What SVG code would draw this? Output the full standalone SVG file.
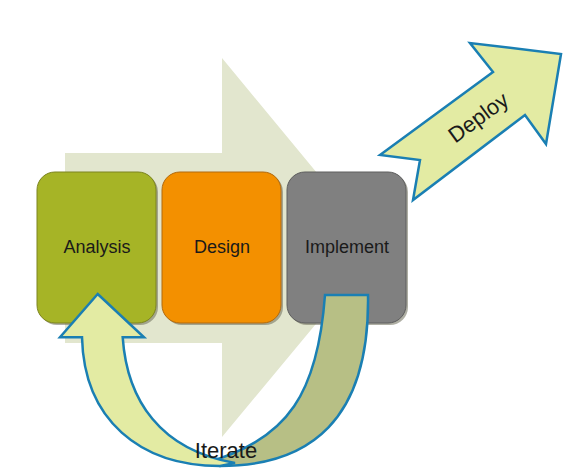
<svg xmlns="http://www.w3.org/2000/svg" width="570" height="473" viewBox="0 0 570 473">
<style>
.lbl{font-family:"Liberation Sans",Arial,sans-serif;fill:#1a1a1a;text-anchor:middle}
.box{stroke-width:1}
.shadow{fill:#6e6e5a;opacity:0.55}
.blue{stroke:#1A7FB3;stroke-width:2.5;stroke-linejoin:miter}
</style>
<rect width="570" height="473" fill="#ffffff"/>
<g id="background-arrow">
<polygon points="65,153 222,153 222,58 379,248 222,437 222,343 65,343" fill="#E2E6CE"/>
</g>
<g id="analysis">
<rect class="shadow" x="39" y="174" width="119" height="151" rx="18"/>
<rect class="box" x="37" y="172" width="119" height="151" rx="18" fill="#A6B426" stroke="#7C8420"/>
<text class="lbl" x="97" y="253" font-size="18">Analysis</text>
</g>
<g id="design">
<rect class="shadow" x="164" y="174" width="119" height="151" rx="18"/>
<rect class="box" x="162" y="172" width="119" height="151" rx="18" fill="#F39000" stroke="#B06A10"/>
<text class="lbl" x="222" y="253" font-size="18">Design</text>
</g>
<g id="implement">
<rect class="shadow" x="289" y="174" width="119" height="151" rx="18"/>
<rect class="box" x="287" y="172" width="119" height="151" rx="18" fill="#808080" stroke="#5e5e5e"/>
<text class="lbl" x="347" y="253" font-size="18">Implement</text>
</g>
<g id="deploy">
<polygon class="blue" points="380,155 493,72 470,43 561,54 546,144 525,115 413,200 420,160" fill="#E3EBA3"/>
<text class="lbl" font-size="22" transform="translate(478,117) rotate(-36.3)" x="0" y="8">Deploy</text>
</g>
<g id="connectors">
<g id="iterate-arrow">
<path class="blue" d="M325,295 L368,295 C370,420 310,466 220,466 L205,463 C290,440 318,390 325,295 Z" fill="#B7BF85"/>
<path class="blue" d="M97.7,294 L144,337.3 L122.7,337.3 C127,400 160,450 235,463 L220,466 C140,466 84,420 82,337.3 L60,337.3 Z" fill="#E3EBA3"/>
</g>
</g>
<g id="iterate-label">
<text class="lbl" x="226" y="458" font-size="22">Iterate</text>
</g>
</svg>
